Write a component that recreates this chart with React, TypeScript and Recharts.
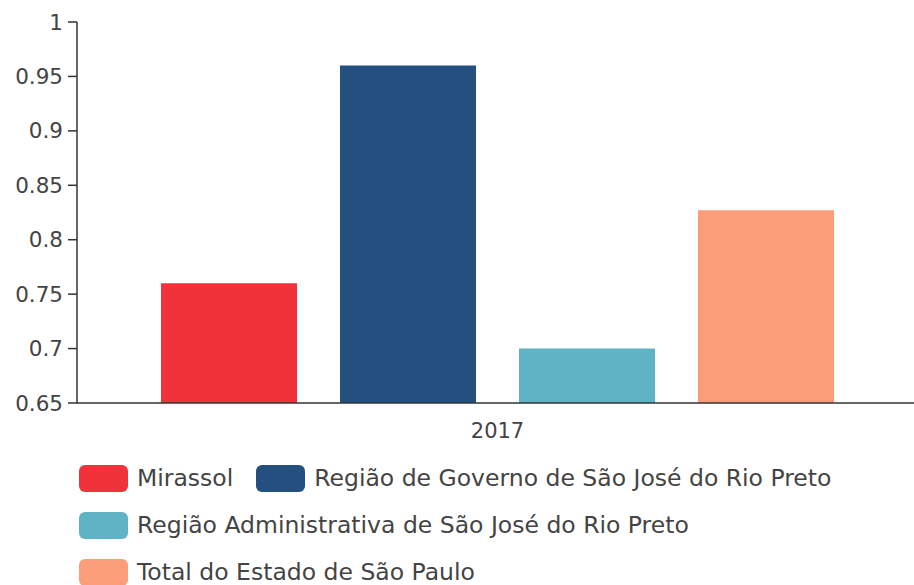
import React from 'react';
import { BarChart, Bar, XAxis, YAxis } from 'recharts';

const years = ['2017'];
const mirassol = [0.76];
const regiaoGoverno = [0.96];
const regiaoAdministrativa = [0.7];
const totalEstado = [0.827];
const yTicks = [0.65, 0.7, 0.75, 0.8, 0.85, 0.9, 0.95, 1];

const series = [
  { key: 'mirassol', name: 'Mirassol', color: '#f0323a', values: mirassol },
  { key: 'regiaoGoverno', name: 'Região de Governo de São José do Rio Preto', color: '#23507e', values: regiaoGoverno },
  { key: 'regiaoAdministrativa', name: 'Região Administrativa de São José do Rio Preto', color: '#60b3c5', values: regiaoAdministrativa },
  { key: 'totalEstado', name: 'Total do Estado de São Paulo', color: '#fc9d79', values: totalEstado },
];

const data = years.map((year, i) => {
  const row: Record<string, string | number> = { year };
  series.forEach((s) => { row[s.key] = s.values[i]; });
  return row;
});

const FONT = '"DejaVu Sans", sans-serif';
const AXIS = '#333';

export default function App() {
  return (
    <div style={{ position: 'relative', width: 914, height: 585, background: '#fff', fontFamily: FONT, overflow: 'hidden' }}>
      <style>{'body{margin:0}'}</style>
      <BarChart
        width={914}
        height={450}
        data={data}
        margin={{ top: 22, right: -4, left: 0, bottom: 7 }}
        barSize={136}
        barGap={43}
      >
        <XAxis
          dataKey="year"
          height={40}
          stroke={AXIS}
          strokeWidth={1.5}
          tickLine={false}
          tickSize={6}
          tickMargin={14}
          tick={{ fill: '#444', fontSize: 21, fontFamily: FONT }}
        />
        <YAxis
          width={77}
          domain={[0.65, 1]}
          ticks={yTicks}
          allowDataOverflow
          stroke={AXIS}
          strokeWidth={1.5}
          tickSize={9}
          tickMargin={5}
          tick={{ fill: '#444', fontSize: 21.5, fontFamily: FONT }}
        />
        {series.map((s) => (
          <Bar key={s.key} dataKey={s.key} name={s.name} fill={s.color} isAnimationActive={false} />
        ))}
      </BarChart>
      <div
        style={{
          position: 'absolute',
          top: 463,
          left: 79,
          width: 800,
          display: 'flex',
          flexWrap: 'wrap',
          columnGap: 23,
          rowGap: 17,
        }}
      >
        {series.map((s) => (
          <div key={s.key} style={{ display: 'flex', alignItems: 'center', height: 30 }}>
            <div style={{ width: 49, height: 27, borderRadius: 6, background: s.color, marginRight: 9 }} />
            <span style={{ fontSize: 23.5, color: '#444', whiteSpace: 'nowrap' }}>{s.name}</span>
          </div>
        ))}
      </div>
    </div>
  );
}
